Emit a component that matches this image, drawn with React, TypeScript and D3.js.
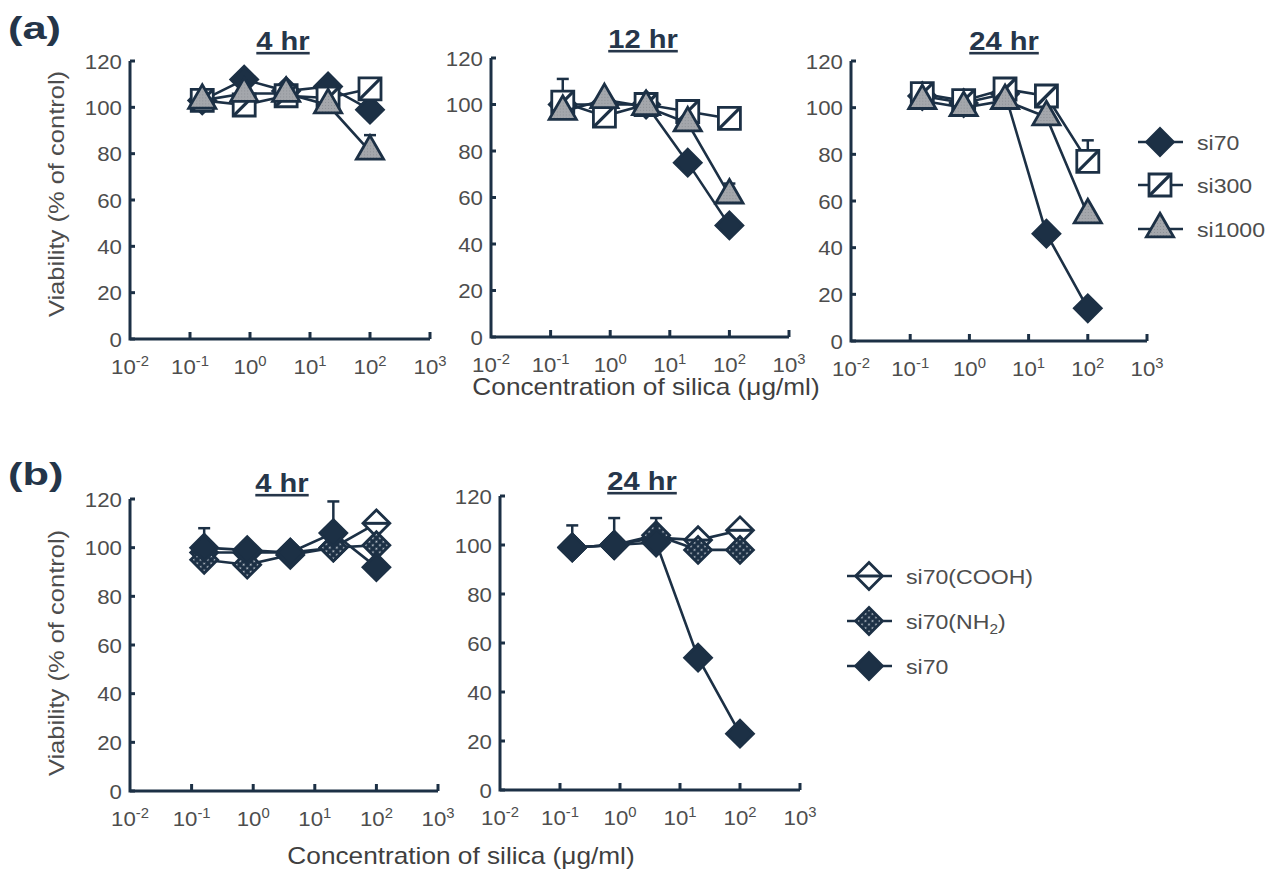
import * as d3 from "d3";

// concentrations (ug/ml) and axis ticks
const conc = [0.16, 0.8, 4, 20, 100];
const xTickExps = [-2, -1, 0, 1, 2, 3];
const yTicks = [0, 20, 40, 60, 80, 100, 120];

// (a) 4 hr
const a4Si70 = [103, 112, 107, 109, 99];
const a4Si300 = [103, 101, 105, 104, 108];
const a4Si1000 = [103, 106, 106, 101, 81];
const a4Si1000Err = [0, 0, 0, 0, 7];
// (a) 12 hr
const a12Si70 = [100, 100, 100, 75, 48];
const a12Si300 = [101, 95, 100, 97, 94];
const a12Si300Err = [10, 0, 0, 0, 0];
const a12Si1000 = [97, 102, 99, 92, 61];
const a12Si1000Err = [0, 0, 0, 0, 5];
// (a) 24 hr
const a24Si70 = [105, 102, 106, 46, 14];
const a24Si300 = [106, 103, 108, 105, 77];
const a24Si300Err = [0, 0, 0, 0, 9];
const a24Si1000 = [103, 100, 103, 96, 54];
// (b) 4 hr
const b4Cooh = [98, 98, 98, 100, 110];
const b4Nh2 = [95, 93, 97, 100, 101];
const b4Si70 = [100, 99, 98, 106, 92];
const b4Si70Err = [8, 0, 0, 13, 0];
// (b) 24 hr
const b24Cooh = [99, 100, 103, 102, 106];
const b24Nh2 = [99, 100, 104, 98, 98];
const b24Si70 = [99, 100, 101, 54, 23];
const b24Si70Err = [9, 11, 10, 0, 0];

const legendA = ["si70", "si300", "si1000"];
const legendB = ["si70(COOH)", "si70(NH2)", "si70"];

const NAVY = "#1c3045";
const GREY_TXT = "#4d4d4d";
const FONT = "'Liberation Sans', Arial, Helvetica, sans-serif";

type Kind = "diamond" | "square" | "triangle" | "diamondOpen" | "diamondDot";
type S = { kind: Kind; values: number[]; err?: number[] };

const diamondPath = d3.symbol(d3.symbolSquare, 360)()!;
const squarePath = d3.symbol(d3.symbolSquare, 484)()!;
const trianglePath = d3.symbol(d3.symbolTriangle, 320)()!;

function Marker({ kind, cx, cy }: { kind: Kind; cx: number; cy: number }) {
  const sw = 2.8;
  if (kind === "square")
    return (
      <g transform={`translate(${cx},${cy})`}>
        <path d={squarePath} fill="#fff" stroke={NAVY} strokeWidth={sw} />
        <line x1={-10} y1={10} x2={10} y2={-10} stroke={NAVY} strokeWidth={3.2} />
      </g>
    );
  if (kind === "triangle")
    return <path transform={`translate(${cx},${cy})`} d={trianglePath} fill="url(#stipple)" stroke={NAVY} strokeWidth={sw} />;
  if (kind === "diamondOpen")
    return (
      <g transform={`translate(${cx},${cy})`}>
        <path transform="rotate(45)" d={diamondPath} fill="#fff" stroke={NAVY} strokeWidth={sw} />
        <line x1={-12} x2={12} y1={0} y2={0} stroke={NAVY} strokeWidth={3} />
      </g>
    );
  const fill = kind === "diamondDot" ? "url(#dots)" : NAVY;
  return <path transform={`translate(${cx},${cy}) rotate(45)`} d={diamondPath} fill={fill} stroke={NAVY} strokeWidth={sw} />;
}

function T({ x, y, sx = 1.1, rot = 0, children, ...rest }: any) {
  return (
    <text transform={`translate(${x},${y})${rot ? ` rotate(${rot})` : ""} scale(${sx},1)`} fontFamily={FONT} {...rest}>
      {children}
    </text>
  );
}

function Panel({ x0, x1, yTop, yBot, title, tx, ty, series }: {
  x0: number; x1: number; yTop: number; yBot: number; title: string; tx: number; ty: number; series: S[];
}) {
  const x = d3.scaleLog().domain([1e-2, 1e3]).range([x0, x1]);
  const y = d3.scaleLinear().domain([0, 120]).range([yBot, yTop]);
  const line = d3.line<number>().x((_, i) => x(conc[i])).y((v) => y(v));
  return (
    <g>
      <T x={tx} y={ty} sx={1.12} fontSize={26} fontWeight="bold" fill="#26364a" textAnchor="middle" style={{ textDecoration: "underline" }}>
        {title}
      </T>
      {/* axes */}
      <path d={`M${x0},${yTop}V${yBot}H${x1}`} fill="none" stroke={NAVY} strokeWidth={3} />
      {yTicks.map((t) => (
        <g key={t}>
          <line x1={x0} x2={x0 + 5} y1={y(t)} y2={y(t)} stroke={NAVY} strokeWidth={3} />
          <T x={x0 - 8} y={y(t) + 7.5} sx={1.06} fontSize={21} fill={GREY_TXT} textAnchor="end">{t}</T>
        </g>
      ))}
      {xTickExps.map((e) => (
        <g key={e}>
          {e > -2 && <line x1={x(10 ** e)} x2={x(10 ** e)} y1={yBot} y2={yBot - 7} stroke={NAVY} strokeWidth={3} />}
          <T x={x(10 ** e)} y={yBot + 35} sx={1.06} fontSize={21} fill={GREY_TXT} textAnchor="middle">
            10<tspan fontSize={14} dy={-8}>{e}</tspan>
          </T>
        </g>
      ))}
      {series.map((s, si) => (
        <g key={si}>
          {s.err?.map((er, i) =>
            er > 0 ? (
              <g key={i} stroke={NAVY} strokeWidth={2.5}>
                <line x1={x(conc[i])} x2={x(conc[i])} y1={y(s.values[i])} y2={y(s.values[i] + er)} />
                <line x1={x(conc[i]) - 6} x2={x(conc[i]) + 6} y1={y(s.values[i] + er)} y2={y(s.values[i] + er)} />
              </g>
            ) : null,
          )}
          <path d={line(s.values) ?? ""} fill="none" stroke={NAVY} strokeWidth={2.6} />
          {s.values.map((v, i) => (
            <Marker key={i} kind={s.kind} cx={x(conc[i])} cy={y(v)} />
          ))}
        </g>
      ))}
    </g>
  );
}

function Legend({ x, ys, names, kinds }: { x: number; ys: number[]; names: string[]; kinds: Kind[] }) {
  return (
    <g>
      {names.map((n, i) => (
        <g key={n}>
          <line x1={x - 22} x2={x + 23} y1={ys[i]} y2={ys[i]} stroke={NAVY} strokeWidth={2.6} />
          <Marker kind={kinds[i]} cx={x} cy={ys[i]} />
          <T x={x + 37} y={ys[i] + 7.5} sx={1.1} fontSize={21} fill={GREY_TXT}>
            {n.endsWith("(NH2)") ? (
              <>
                si70(NH<tspan fontSize={14} dy={5}>2</tspan>
                <tspan dy={-5}>)</tspan>
              </>
            ) : (
              n
            )}
          </T>
        </g>
      ))}
    </g>
  );
}

export default function App() {
  const kindsA: Kind[] = ["diamond", "square", "triangle"];
  const kindsB: Kind[] = ["diamondOpen", "diamondDot", "diamond"];
  const mkA = (a: number[], b: number[], c: number[], ea?: number[], eb?: number[], ec?: number[]): S[] => [
    { kind: "diamond", values: a, err: ea },
    { kind: "square", values: b, err: eb },
    { kind: "triangle", values: c, err: ec },
  ];
  const mkB = (a: number[], b: number[], c: number[], ec?: number[]): S[] => [
    { kind: "diamondOpen", values: a },
    { kind: "diamondDot", values: b },
    { kind: "diamond", values: c, err: ec },
  ];
  return (
    <div style={{ position: "absolute", left: 0, top: 0 }}>
      <svg width={1277} height={875} style={{ display: "block", background: "#fff" }}>
        <defs>
          <pattern id="dots" width={5} height={5} patternUnits="userSpaceOnUse">
            <rect width={5} height={5} fill={NAVY} />
            <circle cx={2.5} cy={2.5} r={0.9} fill="#d8dde3" />
          </pattern>
          <pattern id="stipple" width={3} height={3} patternUnits="userSpaceOnUse">
            <rect width={3} height={3} fill="#a4a7ac" />
            <rect width={1} height={1} fill="#8c9096" />
          </pattern>
        </defs>

        <T x={8} y={39} sx={1.4} fontSize={31} fontWeight="bold" fill="#243549">(a)</T>
        <T x={8} y={485} sx={1.4} fontSize={31} fontWeight="bold" fill="#243549">(b)</T>

        <T x={64} y={194} rot={-90} sx={1.16} fontSize={22} fill={GREY_TXT} textAnchor="middle">Viability (% of control)</T>
        <T x={64} y={653} rot={-90} sx={1.16} fontSize={22} fill={GREY_TXT} textAnchor="middle">Viability (% of control)</T>

        <Panel x0={130} x1={430} yTop={61} yBot={339} title="4 hr" tx={283} ty={50}
          series={mkA(a4Si70, a4Si300, a4Si1000, undefined, undefined, a4Si1000Err)} />
        <Panel x0={491} x1={789} yTop={58} yBot={337} title="12 hr" tx={643} ty={48}
          series={mkA(a12Si70, a12Si300, a12Si1000, undefined, a12Si300Err, a12Si1000Err)} />
        <Panel x0={851} x1={1147} yTop={61} yBot={341} title="24 hr" tx={1004} ty={50}
          series={mkA(a24Si70, a24Si300, a24Si1000, undefined, a24Si300Err)} />
        <Legend x={1160} ys={[142, 185, 229]} names={legendA} kinds={kindsA} />

        <T x={646} y={395} sx={1.14} fontSize={23} fill="#3f3f3f" textAnchor="middle">Concentration of silica (μg/ml)</T>

        <Panel x0={130} x1={438} yTop={499} yBot={791} title="4 hr" tx={282} ty={492}
          series={mkB(b4Cooh, b4Nh2, b4Si70, b4Si70Err)} />
        <Panel x0={500} x1={800} yTop={496} yBot={790} title="24 hr" tx={642} ty={490}
          series={mkB(b24Cooh, b24Nh2, b24Si70, b24Si70Err)} />
        <Legend x={869} ys={[576, 621, 666]} names={legendB} kinds={kindsB} />

        <T x={461} y={864} sx={1.14} fontSize={23} fill="#3f3f3f" textAnchor="middle">Concentration of silica (μg/ml)</T>
      </svg>
    </div>
  );
}
